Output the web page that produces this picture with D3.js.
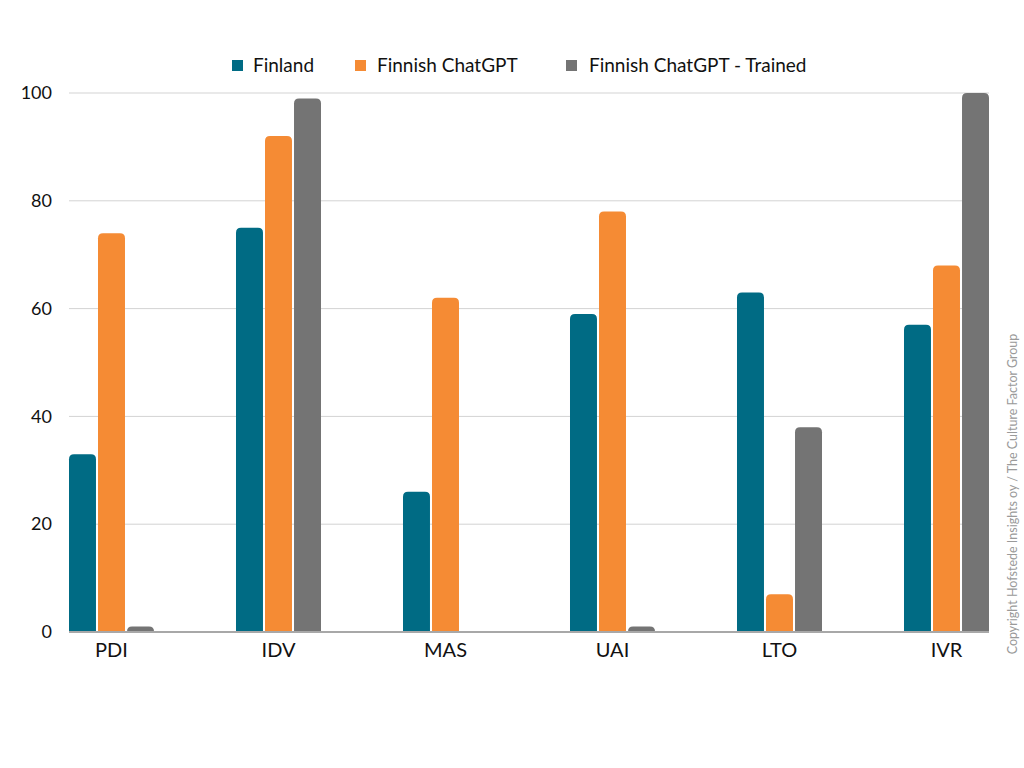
<!DOCTYPE html>
<html>
<head>
<meta charset="utf-8">
<script src="https://cdn.jsdelivr.net/npm/d3@7"></script>
<style>
  body { margin: 0; background: #fff; }
  svg text { font-family: "Gill Sans", Lato, "Open Sans", sans-serif; }
</style>
</head>
<body>
<div id="chart"></div>
<script>
// dimensions (Hofstede scores)
const categories = ['PDI', 'IDV', 'MAS', 'UAI', 'LTO', 'IVR'];
const seriesNames = ['Finland', 'Finnish ChatGPT', 'Finnish ChatGPT - Trained'];
const finland = [33, 75, 26, 59, 63, 57];
const finnishChatGPT = [74, 92, 62, 78, 7, 68];
const finnishTrained = [1, 99, 0, 1, 38, 100];
const yTicks = [0, 20, 40, 60, 80, 100];
const colors = ['#006b84', '#f58b34', '#747474'];

const width = 1024, height = 768;
const margin = {top: 93, right: 35, bottom: 136, left: 69};
const innerW = width - margin.left - margin.right;
const innerH = height - margin.top - margin.bottom;

const svg = d3.select('#chart').append('svg')
  .attr('width', width)
  .attr('height', height);

const g = svg.append('g')
  .attr('transform', 'translate(' + margin.left + ',' + margin.top + ')');

const x0 = d3.scaleBand()
  .domain(categories)
  .range([0, innerW])
  .paddingInner(0.491)
  .paddingOuter(0);

const x1 = d3.scaleBand()
  .domain(seriesNames)
  .range([0, x0.bandwidth()])
  .paddingInner(0.07);

const y = d3.scaleLinear()
  .domain([0, 100])
  .range([innerH, 0]);

// gridlines
g.append('g').selectAll('line')
  .data(yTicks.filter(d => d > 0))
  .enter().append('line')
  .attr('x1', 0).attr('x2', innerW)
  .attr('y1', d => y(d)).attr('y2', d => y(d))
  .attr('stroke', '#d3d3d3')
  .attr('stroke-width', 1);

// y axis labels
const yAxis = g.append('g')
  .call(d3.axisLeft(y).tickValues(yTicks).tickSize(0).tickPadding(17));
yAxis.select('.domain').remove();
yAxis.selectAll('text')
  .attr('font-size', 18)
  .attr('fill', '#111');

// bars
const data = categories.map((c, i) => ({
  cat: c,
  values: [finland[i], finnishChatGPT[i], finnishTrained[i]]
}));

function topRounded(x, yTop, w, h, r) {
  if (h <= 0) return '';
  r = Math.min(r, h, w / 2);
  return 'M' + x + ',' + (yTop + h) +
    'V' + (yTop + r) +
    'Q' + x + ',' + yTop + ' ' + (x + r) + ',' + yTop +
    'H' + (x + w - r) +
    'Q' + (x + w) + ',' + yTop + ' ' + (x + w) + ',' + (yTop + r) +
    'V' + (yTop + h) + 'Z';
}

const groups = g.selectAll('.grp').data(data)
  .enter().append('g')
  .attr('class', 'grp')
  .attr('transform', d => 'translate(' + x0(d.cat) + ',0)');

groups.selectAll('path')
  .data(d => d.values.map((v, i) => ({name: seriesNames[i], value: v, idx: i})))
  .enter().append('path')
  .attr('d', d => topRounded(x1(d.name), y(d.value), x1.bandwidth(), innerH - y(d.value), 5))
  .attr('fill', d => colors[d.idx]);

// x axis
g.append('line')
  .attr('x1', 0).attr('x2', innerW)
  .attr('y1', innerH).attr('y2', innerH)
  .attr('stroke', '#a8a8a8')
  .attr('stroke-width', 2);

const xAxis = g.append('g')
  .attr('transform', 'translate(0,' + innerH + ')')
  .call(d3.axisBottom(x0).tickSize(0).tickPadding(11));
xAxis.select('.domain').remove();
xAxis.selectAll('text')
  .attr('font-size', 20)
  .attr('fill', '#111');

// legend
const legendSq = [232, 355, 566];
const legendTxt = [253, 377, 589];
const legend = svg.append('g').selectAll('g')
  .data(seriesNames)
  .enter().append('g');
legend.append('rect')
  .attr('x', (d, i) => legendSq[i]).attr('y', 60)
  .attr('width', 11).attr('height', 11)
  .attr('fill', (d, i) => colors[i]);
legend.append('text')
  .attr('x', (d, i) => legendTxt[i]).attr('y', 72)
  .attr('font-size', 19)
  .attr('fill', '#111')
  .text(d => d);

// copyright
svg.append('text')
  .attr('transform', 'translate(1017,494) rotate(-90)')
  .attr('text-anchor', 'middle')
  .attr('font-size', 12.5)
  .attr('fill', '#9a9a9a')
  .text('Copyright Hofstede Insights oy / The Culture Factor Group');
</script>
</body>
</html>
